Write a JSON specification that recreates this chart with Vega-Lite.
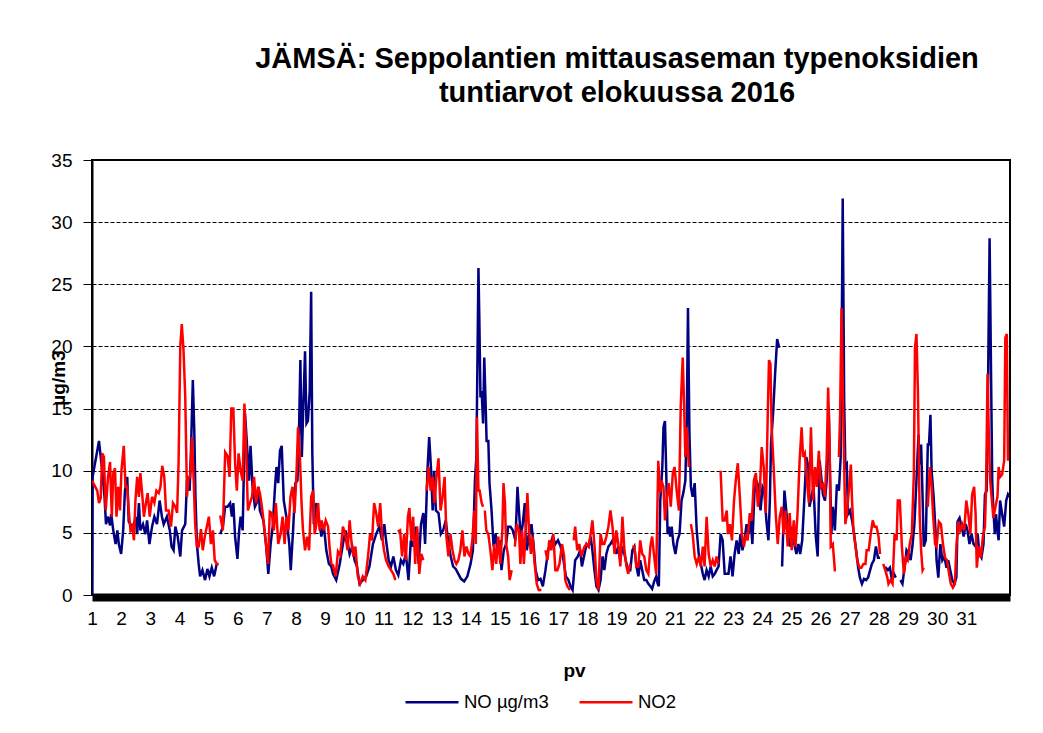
{
  "$schema": "https://vega.github.io/schema/vega-lite/v6.json",
  "width": 918,
  "height": 435,
  "autosize": {"type": "none"},
  "padding": {"left": 92, "top": 160, "right": 33, "bottom": 138},
  "background": "#ffffff",
  "config": {
    "font": "Liberation Sans",
    "view": {"stroke": "#000000", "strokeWidth": 2},
    "axis": {"labelFont": "Liberation Sans", "titleFont": "Liberation Sans", "labelColor": "#000000", "titleColor": "#000000"}
  },
  "title": {
    "text": ["JÄMSÄ: Seppolantien mittausaseman typenoksidien", "tuntiarvot elokuussa 2016"],
    "font": "Liberation Sans",
    "fontSize": 29,
    "fontWeight": "bold",
    "color": "#000000",
    "anchor": "middle",
    "frame": "group",
    "dx": 66,
    "offset": 14,
    "baseline": "bottom",
    "lineHeight": 34
  },
  "datasets": {
    "no": [
      {"d":1.00,"v":0},{"d":1.02,"v":9.5},{"d":1.24,"v":12.4},{"d":1.30,"v":11.1},{"d":1.35,"v":10},{"d":1.43,"v":7.9},{"d":1.48,"v":5.7},{"d":1.55,"v":6.3},{"d":1.62,"v":5.6},{"d":1.66,"v":6.5},{"d":1.73,"v":5.2},{"d":1.81,"v":4.1},{"d":1.87,"v":5.2},{"d":1.92,"v":4.1},{"d":2.00,"v":3.3},{"d":2.07,"v":5.2},{"d":2.13,"v":8.4},{"d":2.21,"v":9.5},{"d":2.26,"v":5.9},{"d":2.32,"v":5.7},{"d":2.41,"v":5.2},{"d":2.49,"v":6.3},{"d":2.55,"v":4.9},{"d":2.61,"v":7.4},{"d":2.66,"v":5.2},{"d":2.75,"v":5.7},{"d":2.83,"v":4.9},{"d":2.89,"v":6},{"d":2.97,"v":4.1},{"d":3.06,"v":5.5},{"d":3.14,"v":6.3},{"d":3.23,"v":5.7},{"d":3.32,"v":7.6},{"d":3.40,"v":6.3},{"d":3.46,"v":5.7},{"d":3.57,"v":6.3},{"d":3.67,"v":5.2},{"d":3.73,"v":3.9},{"d":3.80,"v":3.6},{"d":3.86,"v":5.5},{"d":3.94,"v":4.7},{"d":4.03,"v":3.1},{"d":4.09,"v":5.2},{"d":4.20,"v":5.7},{"d":4.26,"v":9.2},{"d":4.35,"v":8.4},{"d":4.39,"v":11.1},{"d":4.46,"v":17.3},{"d":4.51,"v":13.2},{"d":4.55,"v":7.9},{"d":4.60,"v":4.1},{"d":4.66,"v":2.5},{"d":4.71,"v":1.5},{"d":4.79,"v":2},{"d":4.88,"v":1.2},{"d":4.96,"v":2.1},{"d":5.03,"v":1.5},{"d":5.11,"v":2.2},{"d":5.19,"v":1.5},{"d":5.28,"v":2.5},{"d":5.34,"v":null},{"d":5.40,"v":4.9},{"d":5.49,"v":5.5},{"d":5.57,"v":7.1},{"d":5.65,"v":7.1},{"d":5.74,"v":7.4},{"d":5.80,"v":6.3},{"d":5.85,"v":7.4},{"d":5.91,"v":4.7},{"d":5.99,"v":2.9},{"d":6.05,"v":5.2},{"d":6.10,"v":6.3},{"d":6.17,"v":5.2},{"d":6.25,"v":14.6},{"d":6.31,"v":12.4},{"d":6.39,"v":9.2},{"d":6.44,"v":12},{"d":6.51,"v":8.7},{"d":6.59,"v":7.1},{"d":6.65,"v":7.4},{"d":6.71,"v":8.7},{"d":6.76,"v":6.8},{"d":6.88,"v":6},{"d":6.97,"v":4.1},{"d":7.05,"v":1.7},{"d":7.13,"v":4.1},{"d":7.20,"v":5.5},{"d":7.28,"v":8.7},{"d":7.33,"v":10.3},{"d":7.39,"v":9},{"d":7.45,"v":11.6},{"d":7.51,"v":12},{"d":7.58,"v":7.6},{"d":7.67,"v":6.3},{"d":7.77,"v":4.1},{"d":7.82,"v":2},{"d":7.90,"v":5.2},{"d":7.98,"v":9},{"d":8.05,"v":9.2},{"d":8.11,"v":14},{"d":8.15,"v":18.9},{"d":8.20,"v":11.1},{"d":8.24,"v":14.3},{"d":8.31,"v":19.6},{"d":8.36,"v":13.8},{"d":8.41,"v":14},{"d":8.47,"v":16.4},{"d":8.52,"v":24.4},{"d":8.56,"v":11.4},{"d":8.61,"v":5.7},{"d":8.70,"v":7.4},{"d":8.79,"v":6},{"d":8.87,"v":4.7},{"d":8.95,"v":5.7},{"d":9.04,"v":3.6},{"d":9.13,"v":2.5},{"d":9.21,"v":2.3},
      {"d":9.27,"v":1.7},{"d":9.38,"v":1.2},{"d":9.50,"v":2.5},{"d":9.61,"v":4.1},{"d":9.70,"v":5.2},{"d":9.78,"v":4.1},{"d":9.84,"v":3.3},{"d":9.93,"v":3.9},{"d":10.01,"v":2.8},{"d":10.09,"v":2.3},{"d":10.18,"v":0.9},{"d":10.29,"v":1.2},{"d":10.41,"v":1.5},{"d":10.52,"v":2.3},{"d":10.64,"v":4.1},{"d":10.75,"v":4.9},{"d":10.86,"v":5.5},{"d":10.95,"v":4.4},{"d":11.03,"v":5.7},{"d":11.09,"v":4.4},{"d":11.18,"v":2.8},{"d":11.26,"v":2.3},{"d":11.34,"v":3.1},{"d":11.43,"v":2},{"d":11.51,"v":1.6},{"d":11.60,"v":2.8},{"d":11.68,"v":2.5},{"d":11.77,"v":3.3},{"d":11.86,"v":1.2},{"d":11.94,"v":4.4},{"d":12.02,"v":3.9},{"d":12.12,"v":5.5},{"d":12.21,"v":2.5},{"d":12.29,"v":5.7},{"d":12.37,"v":6.6},{"d":12.43,"v":4.1},{"d":12.51,"v":10},{"d":12.57,"v":12.7},{"d":12.63,"v":10.3},{"d":12.69,"v":6.8},{"d":12.74,"v":10},{"d":12.80,"v":6.8},{"d":12.89,"v":6.6},{"d":12.97,"v":4.9},{"d":13.05,"v":5.2},{"d":13.14,"v":6},{"d":13.23,"v":4.1},{"d":13.31,"v":3.1},{"d":13.39,"v":2.3},{"d":13.48,"v":2.1},{"d":13.57,"v":1.7},{"d":13.66,"v":1.3},{"d":13.77,"v":1.1},{"d":13.88,"v":1.5},{"d":13.99,"v":2.5},{"d":14.07,"v":3.6},{"d":14.14,"v":9.2},{"d":14.19,"v":11.1},{"d":14.23,"v":19.7},{"d":14.26,"v":26.3},{"d":14.29,"v":22.3},{"d":14.33,"v":15.9},{"d":14.37,"v":16.4},{"d":14.42,"v":13.8},{"d":14.46,"v":19.1},{"d":14.51,"v":15.1},{"d":14.54,"v":12.4},{"d":14.60,"v":12.4},{"d":14.64,"v":9},{"d":14.71,"v":6.8},{"d":14.78,"v":3.9},{"d":14.85,"v":4.9},{"d":14.92,"v":3.6},{"d":14.99,"v":4.4},{"d":15.05,"v":2},{"d":15.13,"v":3.6},{"d":15.21,"v":4.1},{"d":15.28,"v":5.5},{"d":15.36,"v":5.5},{"d":15.44,"v":5.2},{"d":15.53,"v":4.4},{"d":15.60,"v":8.7},{"d":15.65,"v":6.8},{"d":15.71,"v":4.7},{"d":15.78,"v":5.7},{"d":15.85,"v":7.4},{"d":15.92,"v":3.6},{"d":15.99,"v":4.7},{"d":16.08,"v":5.7},{"d":16.15,"v":4.1},{"d":16.22,"v":2},{"d":16.31,"v":1.2},{"d":16.39,"v":1.3},{"d":16.47,"v":0.7},{"d":16.56,"v":2},{"d":16.65,"v":3.6},{"d":16.73,"v":4.1},{"d":16.81,"v":4.7},{"d":16.90,"v":4.1},{"d":16.99,"v":4.4},{"d":17.08,"v":3.9},{"d":17.18,"v":2.8},{"d":17.26,"v":1.5},{"d":17.35,"v":1.2},{"d":17.42,"v":0.7},{"d":17.49,"v":0.4},{"d":17.58,"v":2.8},{"d":17.67,"v":3.1},{"d":17.75,"v":3.6},
      {"d":17.81,"v":2.3},{"d":17.90,"v":3.3},{"d":17.97,"v":4.1},{"d":18.04,"v":3.9},{"d":18.11,"v":4.7},{"d":18.17,"v":3.6},{"d":18.24,"v":2},{"d":18.31,"v":0.7},{"d":18.38,"v":0.4},{"d":18.45,"v":1.2},{"d":18.52,"v":3.1},{"d":18.58,"v":2},{"d":18.65,"v":3.3},{"d":18.72,"v":3.9},{"d":18.79,"v":4.1},{"d":18.86,"v":4.4},{"d":18.93,"v":3.9},{"d":18.99,"v":3.3},{"d":19.06,"v":3.9},{"d":19.13,"v":2.8},{"d":19.20,"v":3.9},{"d":19.27,"v":3.3},{"d":19.34,"v":2.5},{"d":19.40,"v":2},{"d":19.47,"v":2},{"d":19.54,"v":3.6},{"d":19.61,"v":3.9},{"d":19.68,"v":2.3},{"d":19.75,"v":1.5},{"d":19.81,"v":2.8},{"d":19.88,"v":2},{"d":19.95,"v":1.2},{"d":20.02,"v":1.2},{"d":20.09,"v":0.9},{"d":20.16,"v":0.7},{"d":20.22,"v":0.5},{"d":20.29,"v":1.1},{"d":20.36,"v":1.5},{"d":20.41,"v":0.9},{"d":20.45,"v":0.7},{"d":20.50,"v":7.6},{"d":20.57,"v":10.3},{"d":20.61,"v":13.5},{"d":20.66,"v":14},{"d":20.70,"v":10.3},{"d":20.75,"v":4.9},{"d":20.79,"v":5.5},{"d":20.84,"v":4.7},{"d":20.89,"v":5.5},{"d":20.95,"v":4.1},{"d":21.02,"v":3.3},{"d":21.09,"v":4.4},{"d":21.16,"v":4.9},{"d":21.23,"v":7.6},{"d":21.29,"v":8.2},{"d":21.36,"v":9.2},{"d":21.41,"v":14},{"d":21.45,"v":23.1},{"d":21.50,"v":13},{"d":21.55,"v":8.7},{"d":21.61,"v":7.9},{"d":21.68,"v":9},{"d":21.75,"v":5.2},{"d":21.82,"v":3.3},{"d":21.89,"v":2.5},{"d":21.96,"v":1.7},{"d":22.02,"v":1.2},{"d":22.09,"v":2},{"d":22.16,"v":1.5},{"d":22.23,"v":2.3},{"d":22.30,"v":1.5},{"d":22.37,"v":1.7},{"d":22.43,"v":2},{"d":22.50,"v":2.3},{"d":22.57,"v":4.9},{"d":22.64,"v":4.4},{"d":22.71,"v":1.7},{"d":22.78,"v":1.7},{"d":22.84,"v":1.7},{"d":22.91,"v":3.1},{"d":22.98,"v":1.5},{"d":23.05,"v":3.3},{"d":23.12,"v":4.4},{"d":23.19,"v":3.3},{"d":23.25,"v":4.9},{"d":23.32,"v":3.6},{"d":23.39,"v":4.4},{"d":23.46,"v":5.7},{"d":23.53,"v":4.9},{"d":23.60,"v":6},{"d":23.66,"v":4.1},{"d":23.73,"v":8.2},{"d":23.80,"v":9.2},{"d":23.87,"v":8.7},{"d":23.94,"v":6.8},{"d":24.01,"v":8.7},{"d":24.07,"v":8.4},{"d":24.14,"v":6},{"d":24.21,"v":4.4},{"d":24.26,"v":7.6},{"d":24.30,"v":12.2},{"d":24.37,"v":14.6},{"d":24.44,"v":17.8},{"d":24.51,"v":20.6},{"d":24.58,"v":19.9},{"d":24.63,"v":null},{"d":24.68,"v":2.3},{"d":24.76,"v":8.4},{"d":24.83,"v":6.6},{"d":24.89,"v":4.7},{"d":24.96,"v":3.9},{"d":25.03,"v":5.5},{"d":25.10,"v":4.1},{"d":25.17,"v":3.3},{"d":25.24,"v":4.1},{"d":25.30,"v":3.3},{"d":25.37,"v":4.4},{"d":25.44,"v":7.6},{"d":25.51,"v":11.1},{"d":25.58,"v":10.3},{"d":25.62,"v":7.1},{"d":25.69,"v":7.9},{"d":25.76,"v":8.7},{"d":25.83,"v":4.9},{"d":25.90,"v":3.1},{"d":25.97,"v":10.8},
      {"d":26.08,"v":8.1},{"d":26.15,"v":7.6},{"d":26.21,"v":9.2},{"d":26.28,"v":15.1},{"d":26.33,"v":9.2},{"d":26.37,"v":4.9},{"d":26.42,"v":7.1},{"d":26.49,"v":5.2},{"d":26.56,"v":8.9},{"d":26.63,"v":8.4},{"d":26.69,"v":11.1},{"d":26.74,"v":25.2},{"d":26.76,"v":31.9},{"d":26.81,"v":15.6},{"d":26.85,"v":10.3},{"d":26.90,"v":10.5},{"d":26.94,"v":6.5},{"d":27.01,"v":6.8},{"d":27.08,"v":6},{"d":27.15,"v":4.9},{"d":27.22,"v":3.6},{"d":27.29,"v":2.2},{"d":27.35,"v":1.4},{"d":27.42,"v":0.9},{"d":27.49,"v":1.3},{"d":27.56,"v":1.2},{"d":27.63,"v":1.4},{"d":27.70,"v":2},{"d":27.76,"v":2.5},{"d":27.83,"v":2.8},{"d":27.90,"v":3.9},{"d":27.97,"v":3},{"d":28.04,"v":3},{"d":28.10,"v":null},{"d":28.17,"v":2.2},{"d":28.24,"v":2.2},{"d":28.31,"v":2},{"d":28.38,"v":2.2},{"d":28.45,"v":1.2},{"d":28.52,"v":1.7},{"d":28.58,"v":1.4},{"d":28.66,"v":null},{"d":28.74,"v":1.2},{"d":28.81,"v":0.9},{"d":28.88,"v":2.2},{"d":28.95,"v":3.6},{"d":29.02,"v":3.3},{"d":29.09,"v":2.8},{"d":29.15,"v":3.9},{"d":29.22,"v":5.7},{"d":29.29,"v":9.2},{"d":29.36,"v":12.9},{"d":29.40,"v":10.5},{"d":29.45,"v":12.1},{"d":29.50,"v":7.9},{"d":29.54,"v":3.9},{"d":29.61,"v":4.4},{"d":29.68,"v":12.1},{"d":29.72,"v":12.1},{"d":29.77,"v":14.5},{"d":29.81,"v":10},{"d":29.88,"v":7.9},{"d":29.95,"v":4.9},{"d":29.98,"v":2.8},{"d":30.04,"v":1.4},{"d":30.11,"v":4.1},{"d":30.18,"v":2.8},{"d":30.25,"v":3.1},{"d":30.32,"v":2.2},{"d":30.38,"v":2.8},{"d":30.45,"v":2},{"d":30.52,"v":1.2},{"d":30.59,"v":0.9},{"d":30.66,"v":1.4},{"d":30.70,"v":5.9},{"d":30.77,"v":6.2},{"d":30.84,"v":5.5},{"d":30.91,"v":4.7},{"d":30.98,"v":5.7},{"d":31.04,"v":5.2},{"d":31.11,"v":4.1},{"d":31.18,"v":4.9},{"d":31.25,"v":4.1},{"d":31.32,"v":3.9},{"d":31.39,"v":4.9},{"d":31.45,"v":3.3},{"d":31.52,"v":3},{"d":31.59,"v":4.1},{"d":31.64,"v":8.1},{"d":31.70,"v":8.4},{"d":31.75,"v":17.8},{"d":31.80,"v":28.7},{"d":31.84,"v":19.9},{"d":31.89,"v":9.2},{"d":31.93,"v":6.8},{"d":31.98,"v":4.9},{"d":32.02,"v":6.5},{"d":32.07,"v":5.2},{"d":32.11,"v":4.4},{"d":32.16,"v":7.6},{"d":32.23,"v":6.5},{"d":32.30,"v":5.5},{"d":32.37,"v":7.6},{"d":32.43,"v":8.1},{"d":32.48,"v":7.9}
    ],
    "no2": [
      {"d":1.00,"v":9.2},{"d":1.18,"v":8.4},{"d":1.24,"v":7.4},{"d":1.30,"v":7.8},{"d":1.35,"v":11.4},{"d":1.41,"v":11.1},{"d":1.47,"v":6.8},{"d":1.55,"v":9.5},{"d":1.62,"v":10.7},{"d":1.68,"v":6.3},{"d":1.73,"v":9.8},{"d":1.79,"v":10.2},{"d":1.84,"v":6.3},{"d":1.90,"v":8.7},{"d":1.96,"v":6.8},{"d":2.01,"v":10},{"d":2.09,"v":12},{"d":2.15,"v":8.7},{"d":2.21,"v":8.7},{"d":2.26,"v":6.8},{"d":2.32,"v":5.2},{"d":2.38,"v":5.5},{"d":2.44,"v":4.4},{"d":2.49,"v":7.6},{"d":2.55,"v":9.5},{"d":2.61,"v":7.9},{"d":2.66,"v":9.8},{"d":2.72,"v":8.2},{"d":2.78,"v":6.3},{"d":2.85,"v":7.4},{"d":2.91,"v":8.2},{"d":2.98,"v":6.3},{"d":3.06,"v":7.9},{"d":3.14,"v":7.4},{"d":3.21,"v":8.4},{"d":3.29,"v":8.2},{"d":3.35,"v":8.7},{"d":3.41,"v":10.4},{"d":3.48,"v":9.5},{"d":3.54,"v":6.8},{"d":3.63,"v":6.8},{"d":3.71,"v":5.5},{"d":3.78,"v":7.4},{"d":3.86,"v":7.1},{"d":3.92,"v":6.6},{"d":3.97,"v":10.6},{"d":4.03,"v":20},{"d":4.08,"v":21.8},{"d":4.14,"v":19.7},{"d":4.20,"v":15.9},{"d":4.26,"v":7.9},{"d":4.31,"v":9.5},{"d":4.37,"v":9.5},{"d":4.43,"v":12.7},{"d":4.49,"v":9.2},{"d":4.54,"v":5.7},{"d":4.60,"v":3.9},{"d":4.66,"v":3.9},{"d":4.74,"v":5.3},{"d":4.80,"v":3.6},{"d":4.87,"v":4.7},{"d":4.94,"v":5.5},{"d":5.01,"v":6.3},{"d":5.08,"v":4.1},{"d":5.15,"v":5.2},{"d":5.21,"v":2.8},{"d":5.28,"v":2.5},{"d":5.35,"v":2.5},{"d":5.37,"v":null},{"d":5.40,"v":6.4},{"d":5.49,"v":5.2},{"d":5.57,"v":11.5},{"d":5.65,"v":11.2},{"d":5.72,"v":9.5},{"d":5.78,"v":15},{"d":5.85,"v":15},{"d":5.91,"v":10.6},{"d":5.97,"v":8.4},{"d":6.03,"v":11.4},{"d":6.10,"v":10},{"d":6.17,"v":9.2},{"d":6.23,"v":15.4},{"d":6.28,"v":12.4},{"d":6.35,"v":6.8},{"d":6.42,"v":7.4},{"d":6.49,"v":7.9},{"d":6.56,"v":9.5},{"d":6.63,"v":7.4},{"d":6.70,"v":8.7},{"d":6.76,"v":8.2},{"d":6.83,"v":7.1},{"d":6.90,"v":5.7},{"d":6.97,"v":4.1},{"d":7.04,"v":2.5},{"d":7.10,"v":6.7},{"d":7.17,"v":6.6},{"d":7.24,"v":5.2},{"d":7.31,"v":7.4},{"d":7.39,"v":4.1},{"d":7.47,"v":4.9},{"d":7.54,"v":6.3},{"d":7.61,"v":4.1},{"d":7.67,"v":6.3},{"d":7.74,"v":5.2},{"d":7.81,"v":7.9},{"d":7.88,"v":8.7},{"d":7.95,"v":6.6},{"d":8.02,"v":10},{"d":8.07,"v":13.5},{"d":8.13,"v":11.4},{"d":8.19,"v":7.4},{"d":8.24,"v":5.2},{"d":8.31,"v":3.6},{"d":8.38,"v":4.7},{"d":8.45,"v":3.6},{"d":8.52,"v":7.9},{"d":8.59,"v":8.4},{"d":8.64,"v":4.9},{"d":8.70,"v":5.7},{"d":8.76,"v":7.4},{"d":8.81,"v":5.2},{"d":8.88,"v":6},{"d":8.95,"v":5.2},{"d":9.02,"v":6},{"d":9.10,"v":5.5},{"d":9.15,"v":3.9},{"d":9.21,"v":2.5},
      {"d":9.27,"v":2.4},{"d":9.36,"v":1.5},{"d":9.44,"v":3.5},{"d":9.52,"v":3.2},{"d":9.61,"v":5.5},{"d":9.69,"v":4.9},{"d":9.77,"v":3.6},{"d":9.84,"v":6},{"d":9.91,"v":4.1},{"d":9.97,"v":3.1},{"d":10.04,"v":3.9},{"d":10.12,"v":1.5},{"d":10.20,"v":0.9},{"d":10.29,"v":1.5},{"d":10.38,"v":1.2},{"d":10.48,"v":3.3},{"d":10.54,"v":4.9},{"d":10.61,"v":4.4},{"d":10.68,"v":7.4},{"d":10.75,"v":6.6},{"d":10.82,"v":5.5},{"d":10.89,"v":7.4},{"d":10.95,"v":4.9},{"d":11.02,"v":3.6},{"d":11.09,"v":2.8},{"d":11.18,"v":2.3},{"d":11.26,"v":2},{"d":11.34,"v":1.7},{"d":11.41,"v":1.2},{"d":11.45,"v":null},{"d":11.49,"v":5.1},{"d":11.57,"v":5.2},{"d":11.64,"v":3.1},{"d":11.71,"v":4.9},{"d":11.77,"v":2.8},{"d":11.84,"v":6.3},{"d":11.89,"v":7},{"d":11.96,"v":4.4},{"d":12.02,"v":6.3},{"d":12.09,"v":2.5},{"d":12.16,"v":5.5},{"d":12.23,"v":1.7},{"d":12.30,"v":3.3},{"d":12.37,"v":2.8},{"d":12.42,"v":null},{"d":12.48,"v":8.4},{"d":12.55,"v":10.3},{"d":12.62,"v":8.4},{"d":12.69,"v":9.5},{"d":12.75,"v":7.4},{"d":12.82,"v":9.5},{"d":12.89,"v":11},{"d":12.96,"v":6.8},{"d":13.03,"v":7.9},{"d":13.10,"v":9.5},{"d":13.16,"v":4.7},{"d":13.23,"v":3.1},{"d":13.30,"v":4.9},{"d":13.37,"v":3.6},{"d":13.44,"v":2.8},{"d":13.50,"v":2.5},{"d":13.57,"v":2.8},{"d":13.64,"v":3.6},{"d":13.71,"v":5.2},{"d":13.78,"v":3.1},{"d":13.85,"v":3.9},{"d":13.92,"v":3.3},{"d":13.98,"v":3.1},{"d":14.05,"v":4.4},{"d":14.12,"v":6.8},{"d":14.17,"v":4.1},{"d":14.21,"v":14.3},{"d":14.26,"v":8.4},{"d":14.30,"v":8.4},{"d":14.37,"v":7.4},{"d":14.42,"v":7.1},{"d":14.45,"v":null},{"d":14.48,"v":6.8},{"d":14.53,"v":5.2},{"d":14.60,"v":4.9},{"d":14.67,"v":3.6},{"d":14.74,"v":2},{"d":14.80,"v":4.1},{"d":14.87,"v":2.5},{"d":14.94,"v":4.7},{"d":15.01,"v":2.5},{"d":15.08,"v":5.2},{"d":15.12,"v":9},{"d":15.17,"v":7.4},{"d":15.21,"v":4.1},{"d":15.28,"v":3.1},{"d":15.33,"v":1.2},{"d":15.40,"v":2},{"d":15.45,"v":null},{"d":15.51,"v":3.9},{"d":15.58,"v":5.7},{"d":15.65,"v":5.2},{"d":15.70,"v":2.5},{"d":15.76,"v":5.2},{"d":15.82,"v":2.5},{"d":15.87,"v":4.7},{"d":15.94,"v":8.2},{"d":15.99,"v":5.5},{"d":16.06,"v":3.3},{"d":16.12,"v":4.7},{"d":16.19,"v":2.5},{"d":16.26,"v":0.9},{"d":16.33,"v":0.4},{"d":16.42,"v":0.4},{"d":16.49,"v":null},{"d":16.56,"v":3.6},{"d":16.63,"v":2.8},{"d":16.69,"v":4.4},{"d":16.76,"v":3.6},{"d":16.83,"v":4.9},{"d":16.90,"v":2},{"d":16.97,"v":2},{"d":17.04,"v":2.5},{"d":17.13,"v":4.1},{"d":17.20,"v":3.1},{"d":17.24,"v":1.2},{"d":17.31,"v":0.7},{"d":17.40,"v":0.4},{"d":17.46,"v":null},{"d":17.53,"v":4.4},{"d":17.58,"v":5.5},{"d":17.65,"v":3.6},{"d":17.72,"v":4.1},{"d":17.79,"v":3.1},
      {"d":17.90,"v":3.9},{"d":17.97,"v":4.1},{"d":18.04,"v":3.9},{"d":18.11,"v":4.9},{"d":18.17,"v":6},{"d":18.24,"v":4.1},{"d":18.31,"v":1.2},{"d":18.38,"v":0.4},{"d":18.45,"v":4.9},{"d":18.52,"v":4.1},{"d":18.58,"v":4.1},{"d":18.65,"v":4.7},{"d":18.72,"v":5.5},{"d":18.79,"v":6.8},{"d":18.86,"v":5.5},{"d":18.93,"v":3.3},{"d":18.99,"v":5.2},{"d":19.06,"v":4.1},{"d":19.13,"v":2.3},{"d":19.20,"v":6.3},{"d":19.27,"v":3.6},{"d":19.34,"v":2.3},{"d":19.40,"v":1.7},{"d":19.47,"v":2.5},{"d":19.50,"v":null},{"d":19.54,"v":3.9},{"d":19.61,"v":3.9},{"d":19.68,"v":2.3},{"d":19.75,"v":2.3},{"d":19.81,"v":4.4},{"d":19.88,"v":3.3},{"d":19.95,"v":3.1},{"d":20.02,"v":2},{"d":20.09,"v":1.7},{"d":20.16,"v":3.9},{"d":20.22,"v":4.7},{"d":20.29,"v":3.1},{"d":20.36,"v":1.7},{"d":20.43,"v":10.8},{"d":20.50,"v":8.2},{"d":20.54,"v":9.2},{"d":20.61,"v":8.7},{"d":20.66,"v":6},{"d":20.73,"v":7.9},{"d":20.79,"v":9},{"d":20.86,"v":7.1},{"d":20.93,"v":9.8},{"d":20.99,"v":10.3},{"d":21.07,"v":8.2},{"d":21.14,"v":6.8},{"d":21.20,"v":15.1},{"d":21.27,"v":19.1},{"d":21.32,"v":15.1},{"d":21.36,"v":11.1},{"d":21.41,"v":13.5},{"d":21.48,"v":10.3},{"d":21.51,"v":null},{"d":21.55,"v":5.7},{"d":21.61,"v":4.9},{"d":21.68,"v":3.1},{"d":21.75,"v":2.5},{"d":21.82,"v":3.1},{"d":21.89,"v":2.3},{"d":21.96,"v":3.9},{"d":22.02,"v":2.3},{"d":22.09,"v":6.3},{"d":22.16,"v":3.3},{"d":22.23,"v":2.3},{"d":22.30,"v":2.8},{"d":22.37,"v":2.3},{"d":22.43,"v":3.1},{"d":22.50,"v":2.5},{"d":22.53,"v":null},{"d":22.57,"v":10},{"d":22.64,"v":6},{"d":22.71,"v":6},{"d":22.78,"v":6.8},{"d":22.82,"v":4.9},{"d":22.89,"v":5.7},{"d":22.96,"v":4.4},{"d":23.03,"v":7.6},{"d":23.09,"v":9.2},{"d":23.16,"v":10.6},{"d":23.23,"v":7.9},{"d":23.30,"v":4.9},{"d":23.37,"v":3.9},{"d":23.44,"v":4.9},{"d":23.50,"v":4.4},{"d":23.57,"v":6.6},{"d":23.64,"v":6},{"d":23.71,"v":9.2},{"d":23.78,"v":9.8},{"d":23.85,"v":7.1},{"d":23.91,"v":8.2},{"d":23.98,"v":11.9},{"d":24.05,"v":10.3},{"d":24.12,"v":6.6},{"d":24.19,"v":14.8},{"d":24.23,"v":18.9},{"d":24.28,"v":18.6},{"d":24.32,"v":13.5},{"d":24.39,"v":10.3},{"d":24.46,"v":6.6},{"d":24.53,"v":4.1},{"d":24.60,"v":6.3},{"d":24.67,"v":7.1},{"d":24.73,"v":4.9},{"d":24.80,"v":6.8},{"d":24.87,"v":3.9},{"d":24.94,"v":6.6},{"d":25.01,"v":3.6},{"d":25.08,"v":6},{"d":25.14,"v":3.9},{"d":25.21,"v":6.6},{"d":25.28,"v":10.8},{"d":25.35,"v":13.5},{"d":25.40,"v":11.1},{"d":25.46,"v":11.4},{"d":25.53,"v":9.2},{"d":25.60,"v":7.4},{"d":25.67,"v":13.5},{"d":25.74,"v":7.6},{"d":25.81,"v":10.3},{"d":25.87,"v":8.7},{"d":25.94,"v":11.6},
      {"d":26.01,"v":8.7},{"d":26.08,"v":8.9},{"d":26.15,"v":7.9},{"d":26.21,"v":11.1},{"d":26.26,"v":16.7},{"d":26.31,"v":11.9},{"d":26.35,"v":3.9},{"d":26.42,"v":4.1},{"d":26.49,"v":2},{"d":26.53,"v":2},{"d":26.58,"v":null},{"d":26.63,"v":11.1},{"d":26.67,"v":14.5},{"d":26.72,"v":23.1},{"d":26.76,"v":17.2},{"d":26.81,"v":10.5},{"d":26.85,"v":5.7},{"d":26.90,"v":6.5},{"d":26.97,"v":8.4},{"d":27.04,"v":10.5},{"d":27.08,"v":7.6},{"d":27.13,"v":5.2},{"d":27.19,"v":4.1},{"d":27.26,"v":2.8},{"d":27.33,"v":2.2},{"d":27.40,"v":2.2},{"d":27.47,"v":2.5},{"d":27.54,"v":2.5},{"d":27.58,"v":3.6},{"d":27.65,"v":3.6},{"d":27.72,"v":4.9},{"d":27.79,"v":6},{"d":27.85,"v":5.5},{"d":27.92,"v":5.5},{"d":27.99,"v":4.7},{"d":28.04,"v":3.3},{"d":28.10,"v":null},{"d":28.15,"v":2.5},{"d":28.22,"v":2},{"d":28.29,"v":1.4},{"d":28.33,"v":0.9},{"d":28.40,"v":1.2},{"d":28.47,"v":0.9},{"d":28.54,"v":4.9},{"d":28.61,"v":4.4},{"d":28.65,"v":7.6},{"d":28.72,"v":7.6},{"d":28.79,"v":3.9},{"d":28.86,"v":1.7},{"d":28.93,"v":3},{"d":28.99,"v":2.8},{"d":29.06,"v":4.1},{"d":29.13,"v":4.9},{"d":29.20,"v":9.7},{"d":29.24,"v":19.9},{"d":29.29,"v":21},{"d":29.34,"v":16.4},{"d":29.40,"v":6.5},{"d":29.45,"v":3.6},{"d":29.50,"v":2},{"d":29.54,"v":2.2},{"d":29.61,"v":null},{"d":29.68,"v":7.1},{"d":29.75,"v":10.3},{"d":29.81,"v":8.7},{"d":29.86,"v":6.5},{"d":29.93,"v":4.1},{"d":29.98,"v":3.9},{"d":30.06,"v":5.9},{"d":30.13,"v":5.7},{"d":30.20,"v":4.1},{"d":30.27,"v":3},{"d":30.34,"v":2.8},{"d":30.41,"v":1.7},{"d":30.47,"v":0.9},{"d":30.54,"v":0.6},{"d":30.61,"v":0.9},{"d":30.66,"v":3.9},{"d":30.73,"v":5.9},{"d":30.79,"v":5.2},{"d":30.86,"v":5.7},{"d":30.93,"v":5.2},{"d":31.00,"v":7.6},{"d":31.07,"v":6.5},{"d":31.14,"v":4.9},{"d":31.20,"v":8.1},{"d":31.27,"v":8.7},{"d":31.32,"v":6.5},{"d":31.36,"v":2.2},{"d":31.43,"v":3.9},{"d":31.50,"v":3},{"d":31.57,"v":4.7},{"d":31.64,"v":5.5},{"d":31.68,"v":8.7},{"d":31.73,"v":17.8},{"d":31.77,"v":13.2},{"d":31.82,"v":9.2},{"d":31.89,"v":7.3},{"d":31.93,"v":6.2},{"d":32.00,"v":7.1},{"d":32.07,"v":7.9},{"d":32.11,"v":10.3},{"d":32.16,"v":9.5},{"d":32.23,"v":9.7},{"d":32.30,"v":10.8},{"d":32.34,"v":20.7},{"d":32.39,"v":21},{"d":32.43,"v":10.8}
    ]
  },
  "encoding": {
    "x": {
      "field": "d",
      "type": "quantitative",
      "scale": {"domain": [1, 32.5], "nice": false, "zero": false},
      "axis": {
        "values": [1,2,3,4,5,6,7,8,9,10,11,12,13,14,15,16,17,18,19,20,21,22,23,24,25,26,27,28,29,30,31],
        "format": "d",
        "title": "pv",
        "titleFontSize": 19,
        "titleFontWeight": "bold",
        "titleX": 482,
        "titleY": 64,
        "titleBaseline": "top",
        "titleAlign": "center",
        "labelFontSize": 19,
        "labelPadding": 12,
        "labelFlush": false,
        "labelOverlap": false,
        "labelBound": false,
        "ticks": false,
        "tickSize": 0,
        "grid": false,
        "domainColor": "#000000",
        "domainWidth": 8,
        "offset": 2
      }
    },
    "y": {
      "field": "v",
      "type": "quantitative",
      "scale": {"domain": [0, 35], "nice": false},
      "axis": {
        "values": [0,5,10,15,20,25,30,35],
        "title": "µg/m3",
        "titleFontSize": 19,
        "titleFontWeight": "bold",
        "titleX": -34,
        "titleY": 217.5,
        "titleAngle": 270,
        "titleBaseline": "middle",
        "titleAlign": "center",
        "labelFontSize": 19,
        "labelPadding": 11,
        "tickSize": 9,
        "tickColor": "#000000",
        "tickWidth": 1,
        "domainColor": "#000000",
        "domainWidth": 2,
        "grid": true,
        "gridColor": "#000000",
        "gridDash": [4, 2],
        "gridWidth": 1,
        "gridOpacity": 1
      }
    }
  },
  "layer": [
    {
      "data": {"name": "no"},
      "mark": {"type": "line", "strokeWidth": 2.5, "clip": true},
      "encoding": {
        "color": {
          "datum": "NO µg/m3",
          "type": "nominal",
          "scale": {"domain": ["NO µg/m3", "NO2"], "range": ["#000080", "#ff0000"]},
          "legend": {
            "title": null,
            "orient": "none",
            "direction": "horizontal",
            "legendX": 312,
            "legendY": 514,
            "symbolType": "stroke",
            "symbolSize": 2809,
            "symbolStrokeWidth": 2.5,
            "labelFont": "Liberation Sans",
            "labelFontSize": 18.5,
            "labelColor": "#000000",
            "labelOffset": 4,
            "columnPadding": 25
          }
        }
      }
    },
    {
      "data": {"name": "no2"},
      "mark": {"type": "line", "strokeWidth": 2.5, "clip": true},
      "encoding": {
        "color": {"datum": "NO2", "type": "nominal"}
      }
    }
  ]
}
